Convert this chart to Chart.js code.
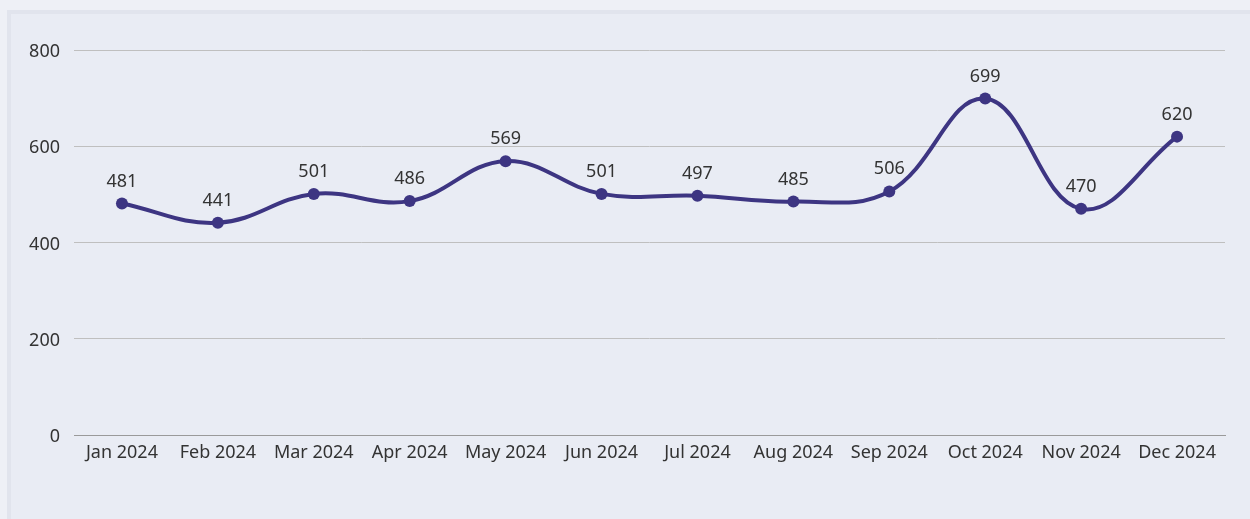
<!DOCTYPE html>
<html>
<head>
<meta charset="utf-8">
<script src="https://cdn.jsdelivr.net/npm/chart.js@4/dist/chart.umd.min.js"></script>
<style>
  html, body { margin: 0; padding: 0; background: #eef0f6; width: 1250px; height: 519px; overflow: hidden; }
  #panel { position: absolute; left: 7px; top: 10px; width: 1243px; height: 509px; background: #e9ecf4;
           border-left: 4px solid #e1e4ed; border-top: 4px solid #e1e4ed; box-sizing: border-box; }
  #wrap { position: absolute; left: 0; top: 0; width: 1239px; height: 505px; }
</style>
</head>
<body>
<div id="panel"><div id="wrap"><canvas id="c" width="1239" height="505"></canvas></div></div>
<script>
const categories = ['Jan 2024','Feb 2024','Mar 2024','Apr 2024','May 2024','Jun 2024','Jul 2024','Aug 2024','Sep 2024','Oct 2024','Nov 2024','Dec 2024'];
const values = [481, 441, 501, 486, 569, 501, 497, 485, 506, 699, 470, 620];
const yTicks = [0, 200, 400, 600, 800];

const FONT = '"Noto Sans", "Open Sans", sans-serif';
const lineColor = '#3d3582';

const labelPlugin = {
  id: 'valueLabels',
  afterDatasetsDraw(chart) {
    const ctx = chart.ctx;
    const meta = chart.getDatasetMeta(0);
    ctx.save();
    ctx.font = '18px ' + FONT;
    ctx.fillStyle = '#333333';
    ctx.textAlign = 'center';
    ctx.textBaseline = 'alphabetic';
    meta.data.forEach((pt, i) => {
      ctx.fillText(String(values[i]), pt.x, pt.y - 17);
    });
    ctx.restore();
  }
};

new Chart(document.getElementById('c'), {
  type: 'line',
  data: {
    labels: categories,
    datasets: [{
      data: values,
      borderColor: lineColor,
      backgroundColor: lineColor,
      borderWidth: 4,
      tension: 0.4,
      pointRadius: 6,
      pointHoverRadius: 6,
      pointBackgroundColor: lineColor,
      pointBorderWidth: 0,
      fill: false
    }]
  },
  options: {
    responsive: false,
    animation: false,
    devicePixelRatio: 1,
    layout: { padding: { top: 36, right: 25, bottom: 0, left: 0 } },
    plugins: { legend: { display: false }, tooltip: { enabled: false } },
    scales: {
      x: {
        offset: true,
        grid: { display: false, drawTicks: false },
        border: { display: true, color: '#9a9a9a', width: 1 },
        ticks: { color: '#333333', font: { family: FONT, size: 18 }, padding: 7, maxRotation: 0, autoSkip: false },
        afterFit(s) { s.height = 84; }
      },
      y: {
        min: 0, max: 800,
        afterBuildTicks(s) { s.ticks = yTicks.map(v => ({ value: v })); },
        grid: { color: '#bfbfbf', drawTicks: false, lineWidth: 1 },
        border: { display: false },
        ticks: { color: '#333333', font: { family: FONT, size: 18 }, padding: 14, labelOffset: 2 },
        afterFit(s) { s.width = 63; }
      }
    }
  },
  plugins: [labelPlugin]
});
</script>
</body>
</html>
